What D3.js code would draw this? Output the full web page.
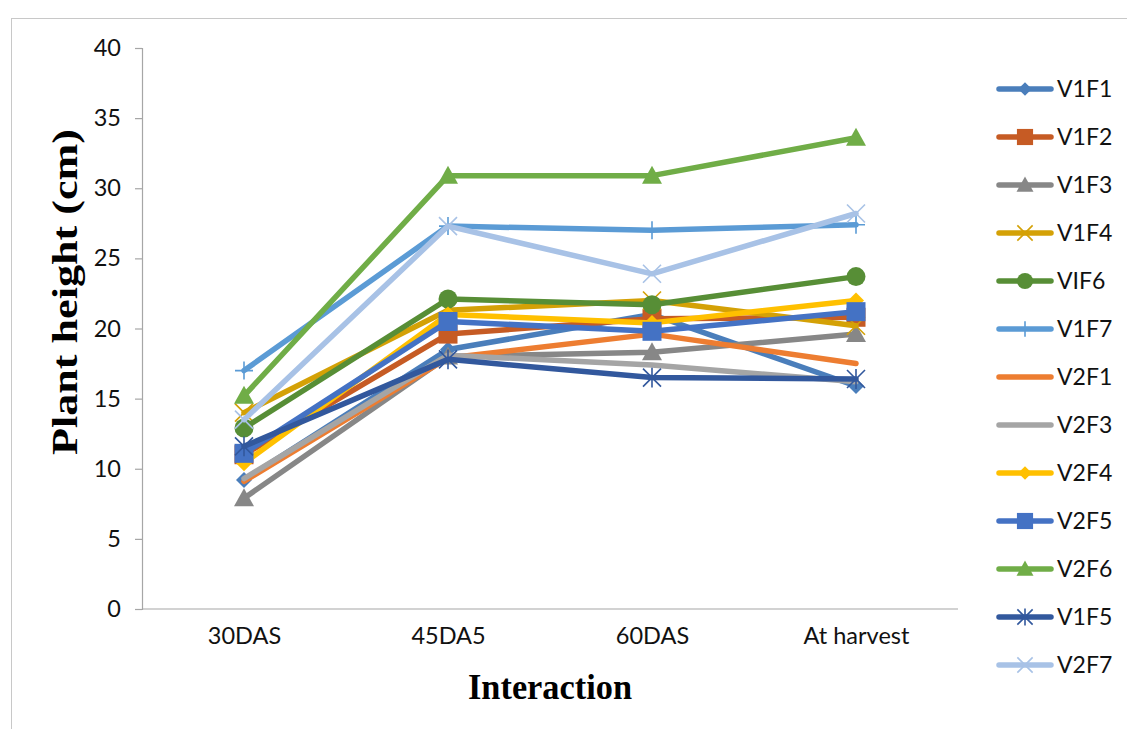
<!DOCTYPE html>
<html>
<head>
<meta charset="utf-8">
<script src="https://cdn.jsdelivr.net/npm/d3@7/dist/d3.min.js"></script>
<style>
  html, body { margin: 0; padding: 0; background: #fff; }
  svg { display: block; }
</style>
</head>
<body>
<div id="chart"></div>
<script>
// Growth stages along the x axis
const stages = ["30DAS", "45DA5", "60DAS", "At harvest"];
const yTicks = [0, 5, 10, 15, 20, 25, 30, 35, 40];

// Plant height (cm) per treatment at each stage
const V1F1 = [9.2, 18.5, 21.0, 15.9];
const V1F2 = [11.0, 19.6, 20.7, 20.8];
const V1F3 = [7.9, 18.0, 18.3, 19.6];
const V1F4 = [14.0, 21.3, 22.0, 20.2];
const VIF6 = [12.9, 22.1, 21.7, 23.7];
const V1F7 = [17.0, 27.3, 27.0, 27.4];
const V2F1 = [9.1, 17.9, 19.6, 17.5];
const V2F3 = [9.3, 18.1, 17.4, 16.2];
const V2F4 = [10.4, 21.0, 20.4, 22.0];
const V2F5 = [11.1, 20.5, 19.8, 21.2];
const V2F6 = [15.2, 30.9, 30.9, 33.6];
const V1F5 = [11.6, 17.8, 16.5, 16.4];
const V2F7 = [13.5, 27.3, 23.9, 28.2];

const seriesNames = ["V1F1", "V1F2", "V1F3", "V1F4", "VIF6", "V1F7", "V2F1", "V2F3", "V2F4", "V2F5", "V2F6", "V1F5", "V2F7"];
const seriesValues = [V1F1, V1F2, V1F3, V1F4, VIF6, V1F7, V2F1, V2F3, V2F4, V2F5, V2F6, V1F5, V2F7];
const seriesColors = ["#4A7EBB", "#C65B24", "#878787", "#D4A106", "#578E36", "#5B9BD5", "#ED7D31", "#A5A5A5", "#FFC000", "#4472C4", "#70AD47", "#32589D", "#A8C2E6"];
const seriesMarkers = ["diamond", "square", "triangle", "x", "circle", "plus", "none", "none", "diamond", "square", "triangle", "star", "x"];

const series = seriesNames.map((name, i) => ({
  name, values: seriesValues[i], color: seriesColors[i], marker: seriesMarkers[i]
}));

const W = 1127, H = 729;
const svg = d3.select("#chart").append("svg").attr("width", W).attr("height", H);

// Chart frame
svg.append("rect")
  .attr("x", 11.5).attr("y", 18.5)
  .attr("width", W + 20).attr("height", H + 20)
  .attr("fill", "none").attr("stroke", "#C8C8C8").attr("stroke-width", 1);

const x = d3.scalePoint().domain(stages).range([142, 958]).padding(0.5);
const y = d3.scaleLinear().domain([0, 40]).range([609, 48]);

const tickFont = "Lato, 'Open Sans', sans-serif";

// Y axis
const yAxis = svg.append("g").attr("transform", "translate(142,0)")
  .call(d3.axisLeft(y).tickValues(yTicks).tickSize(7).tickPadding(14).tickFormat(d3.format("d")));
yAxis.select(".domain").attr("stroke", "#A6A6A6").attr("stroke-width", 1.2);
yAxis.selectAll(".tick line").attr("stroke", "#A6A6A6").attr("stroke-width", 1.2);
yAxis.selectAll(".tick text").attr("font-family", tickFont).attr("font-size", 23.5).attr("fill", "#111");

// X axis
const xAxis = svg.append("g").attr("transform", "translate(0,609)")
  .call(d3.axisBottom(x).tickSize(0).tickPadding(18));
xAxis.select(".domain").attr("d", "M142,0H958").attr("stroke", "#A6A6A6").attr("stroke-width", 1.2);
xAxis.selectAll(".tick text").attr("font-family", tickFont).attr("font-size", 23.5).attr("fill", "#111")
  .attr("dy", "0.71em");

// Axis titles
svg.append("text")
  .attr("transform", "translate(77,292) rotate(-90)")
  .attr("text-anchor", "middle")
  .attr("font-family", "'Liberation Serif', 'Times New Roman', serif")
  .attr("font-weight", "bold").attr("font-size", 36).attr("fill", "#000")
  .attr("textLength", 326).attr("lengthAdjust", "spacingAndGlyphs")
  .text("Plant height (cm)");

svg.append("text")
  .attr("x", 550).attr("y", 699)
  .attr("text-anchor", "middle")
  .attr("font-family", "'Liberation Serif', 'Times New Roman', serif")
  .attr("font-weight", "bold").attr("font-size", 35).attr("fill", "#000")
  .attr("textLength", 164).attr("lengthAdjust", "spacingAndGlyphs")
  .text("Interaction");

// Marker drawing
function drawMarker(g, type, color, cx, cy, s) {
  const k = s || 1;
  if (type === "diamond") {
    const r = 8 * k;
    g.append("path").attr("d", `M${cx},${cy - r}L${cx + r},${cy}L${cx},${cy + r}L${cx - r},${cy}Z`).attr("fill", color);
  } else if (type === "square") {
    const r = 9.5 * k;
    g.append("rect").attr("x", cx - r).attr("y", cy - r).attr("width", 2 * r).attr("height", 2 * r).attr("fill", color);
  } else if (type === "triangle") {
    const r = 10 * k;
    g.append("path").attr("d", `M${cx},${cy - r}L${cx + r},${cy + r * 0.8}L${cx - r},${cy + r * 0.8}Z`).attr("fill", color);
  } else if (type === "circle") {
    g.append("circle").attr("cx", cx).attr("cy", cy).attr("r", 9.5 * k).attr("fill", color);
  } else if (type === "x") {
    const r = 9 * k;
    g.append("path").attr("d", `M${cx - r},${cy - r}L${cx + r},${cy + r}M${cx - r},${cy + r}L${cx + r},${cy - r}`)
      .attr("stroke", color).attr("stroke-width", 1.6).attr("fill", "none");
  } else if (type === "plus") {
    const r = 9 * k;
    g.append("path").attr("d", `M${cx - r},${cy}L${cx + r},${cy}M${cx},${cy - r}L${cx},${cy + r}`)
      .attr("stroke", color).attr("stroke-width", 1.6).attr("fill", "none");
  } else if (type === "star") {
    const r = 9 * k;
    g.append("path").attr("d", `M${cx - r},${cy - r}L${cx + r},${cy + r}M${cx - r},${cy + r}L${cx + r},${cy - r}M${cx},${cy - r * 1.1}L${cx},${cy + r * 1.1}`)
      .attr("stroke", color).attr("stroke-width", 1.6).attr("fill", "none");
  }
}

// Series lines and markers
const line = d3.line().x((d, i) => x(stages[i])).y(d => y(d));
const plot = svg.append("g");
series.forEach(s => {
  const g = plot.append("g");
  g.append("path").attr("d", line(s.values))
    .attr("fill", "none").attr("stroke", s.color).attr("stroke-width", 5.5)
    .attr("stroke-linejoin", "round").attr("stroke-linecap", "round");
  s.values.forEach((v, i) => drawMarker(g, s.marker, s.color, x(stages[i]), y(v)));
});

// Legend
const legend = svg.append("g");
const legendY = d3.scaleLinear().domain([0, seriesNames.length - 1]).range([89, 665]);
series.forEach((s, i) => {
  const ly = legendY(i);
  const g = legend.append("g");
  g.append("line").attr("x1", 999).attr("x2", 1051).attr("y1", ly).attr("y2", ly)
    .attr("stroke", s.color).attr("stroke-width", 5.5).attr("stroke-linecap", "round");
  drawMarker(g, s.marker, s.color, 1025, ly, 0.85);
  g.append("text").attr("x", 1057).attr("y", ly).attr("dy", "0.36em")
    .attr("font-family", tickFont).attr("font-size", 23).attr("fill", "#111")
    .text(s.name);
});
</script>
</body>
</html>
